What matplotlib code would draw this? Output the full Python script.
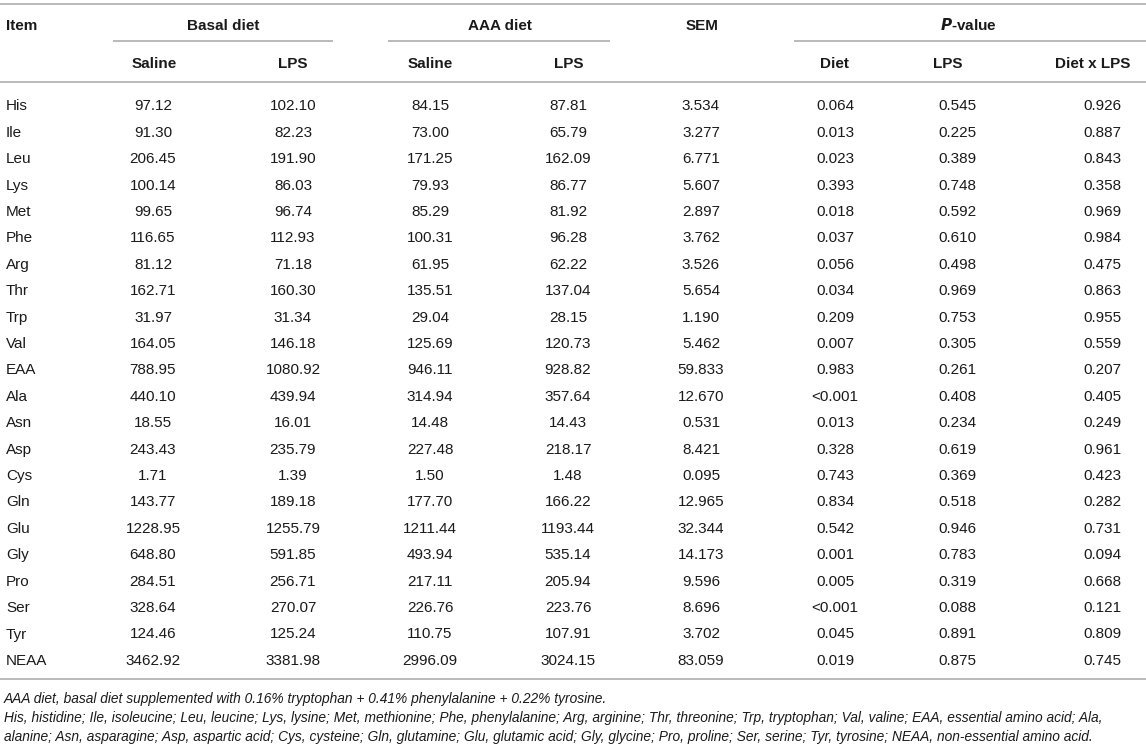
import matplotlib
matplotlib.use("Agg")
import matplotlib.pyplot as plt

plt.rcParams['font.family'] = ['Liberation Sans', 'DejaVu Sans']

# ---- table data ----
items = ["His", "Ile", "Leu", "Lys", "Met", "Phe", "Arg", "Thr", "Trp", "Val", "EAA",
         "Ala", "Asn", "Asp", "Cys", "Gln", "Glu", "Gly", "Pro", "Ser", "Tyr", "NEAA"]
basal_saline = ["97.12", "91.30", "206.45", "100.14", "99.65", "116.65", "81.12", "162.71",
                "31.97", "164.05", "788.95", "440.10", "18.55", "243.43", "1.71", "143.77",
                "1228.95", "648.80", "284.51", "328.64", "124.46", "3462.92"]
basal_lps = ["102.10", "82.23", "191.90", "86.03", "96.74", "112.93", "71.18", "160.30",
             "31.34", "146.18", "1080.92", "439.94", "16.01", "235.79", "1.39", "189.18",
             "1255.79", "591.85", "256.71", "270.07", "125.24", "3381.98"]
aaa_saline = ["84.15", "73.00", "171.25", "79.93", "85.29", "100.31", "61.95", "135.51",
              "29.04", "125.69", "946.11", "314.94", "14.48", "227.48", "1.50", "177.70",
              "1211.44", "493.94", "217.11", "226.76", "110.75", "2996.09"]
aaa_lps = ["87.81", "65.79", "162.09", "86.77", "81.92", "96.28", "62.22", "137.04",
           "28.15", "120.73", "928.82", "357.64", "14.43", "218.17", "1.48", "166.22",
           "1193.44", "535.14", "205.94", "223.76", "107.91", "3024.15"]
sem = ["3.534", "3.277", "6.771", "5.607", "2.897", "3.762", "3.526", "5.654", "1.190",
       "5.462", "59.833", "12.670", "0.531", "8.421", "0.095", "12.965", "32.344",
       "14.173", "9.596", "8.696", "3.702", "83.059"]
p_diet = ["0.064", "0.013", "0.023", "0.393", "0.018", "0.037", "0.056", "0.034", "0.209",
          "0.007", "0.983", "<0.001", "0.013", "0.328", "0.743", "0.834", "0.542", "0.001",
          "0.005", "<0.001", "0.045", "0.019"]
p_lps = ["0.545", "0.225", "0.389", "0.748", "0.592", "0.610", "0.498", "0.969", "0.753",
         "0.305", "0.261", "0.408", "0.234", "0.619", "0.369", "0.518", "0.946", "0.783",
         "0.319", "0.088", "0.891", "0.875"]
p_inter = ["0.926", "0.887", "0.843", "0.358", "0.969", "0.984", "0.475", "0.863", "0.955",
           "0.559", "0.207", "0.405", "0.249", "0.961", "0.423", "0.282", "0.731", "0.094",
           "0.668", "0.121", "0.809", "0.745"]

group_headers = ["Basal diet", "AAA diet", "SEM", "$\\mathbfit{P}$-value"]
sub_headers = ["Saline", "LPS", "Saline", "LPS", "Diet", "LPS", "Diet x LPS"]

footnotes = [
    "AAA diet, basal diet supplemented with 0.16% tryptophan + 0.41% phenylalanine + 0.22% tyrosine.",
    "His, histidine; Ile, isoleucine; Leu, leucine; Lys, lysine; Met, methionine; Phe, phenylalanine; "
    "Arg, arginine; Thr, threonine; Trp, tryptophan; Val, valine; EAA, essential amino acid; Ala,",
    "alanine; Asn, asparagine; Asp, aspartic acid; Cys, cysteine; Gln, glutamine; Glu, glutamic acid; "
    "Gly, glycine; Pro, proline; Ser, serine; Tyr, tyrosine; NEAA, non-essential amino acid.",
]

# ---- layout (pixel coords) ----
W, H = 1146, 750
fig = plt.figure(figsize=(W / 100, H / 100), dpi=100)
ax = fig.add_axes([0, 0, 1, 1])
ax.set_xlim(0, W)
ax.set_ylim(H, 0)
ax.axis('off')

txt = '#1a1a1a'
line_c = '#b4b4b4'
fs = 11

value_cols = [basal_saline, basal_lps, aaa_saline, aaa_lps, sem, p_diet, p_lps, p_inter]
value_x = [153, 293, 430, 568, 701, 835, 957, 1102]
sub_x = [154, 293, 430, 569, 834, 948, 1093]

# rules
for y in (4, 82, 679):
    ax.plot([0, W], [y, y], color=line_c, lw=1.3, solid_capstyle='butt')
for x0, x1 in [(113, 333), (388, 610), (794, 1146)]:
    ax.plot([x0, x1], [41, 41], color=line_c, lw=1.3, solid_capstyle='butt')

# headers
ax.text(6, 24, "Item", fontsize=fs, fontweight='bold', color=txt, va='center_baseline', ha='left')
for label, x in zip(group_headers, [223, 500, 702, 968]):
    ax.text(x, 24, label, fontsize=fs, fontweight='bold', color=txt, va='center_baseline', ha='center')
for label, x in zip(sub_headers, sub_x):
    ax.text(x, 62, label, fontsize=fs, fontweight='bold', color=txt, va='center_baseline', ha='center')

# body
y0, dy = 105, 26.4
for i, name in enumerate(items):
    y = y0 + i * dy
    ax.text(6, y, name, fontsize=fs, color=txt, va='center_baseline', ha='left')
    for col, x in zip(value_cols, value_x):
        ax.text(x, y, col[i], fontsize=fs, color=txt, va='center_baseline', ha='center')

# footnotes
for j, note in enumerate(footnotes):
    ax.text(4, 697 + j * 19.5, note, fontsize=9.9, style='italic', color=txt,
            va='center_baseline', ha='left')

fig.savefig("out.png", dpi=100, facecolor='white')
